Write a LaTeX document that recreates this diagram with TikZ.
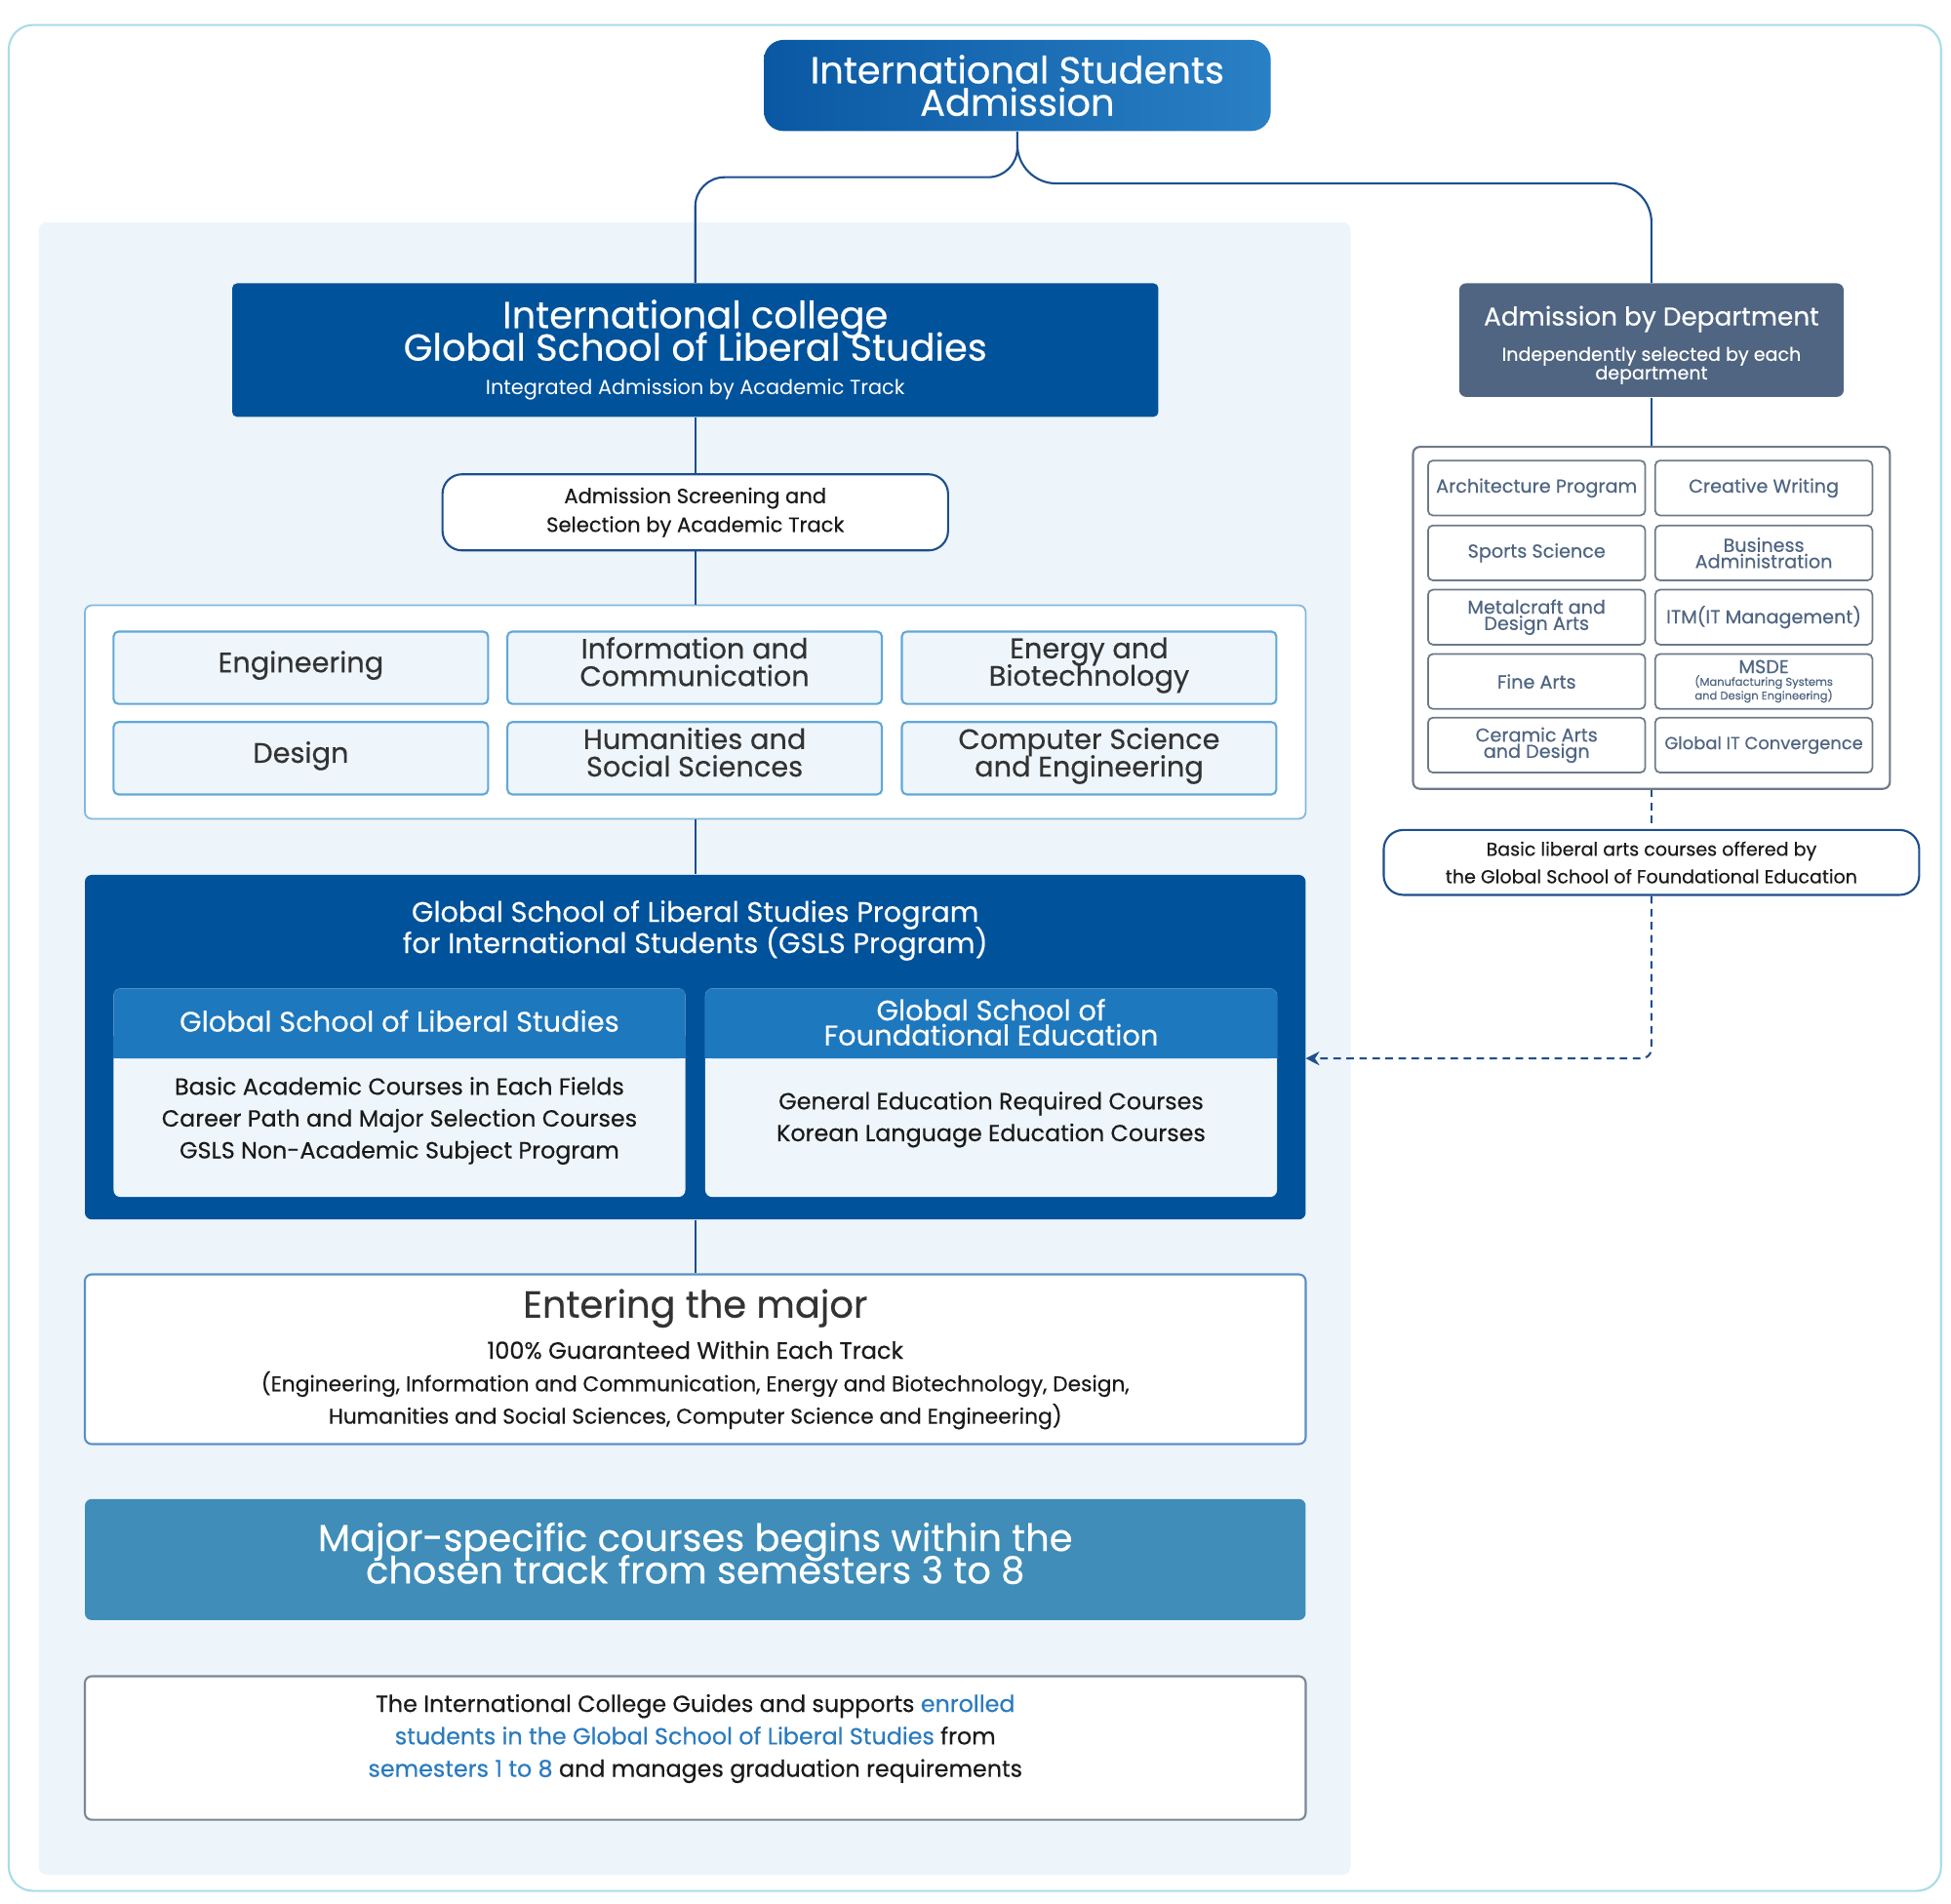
\documentclass[tikz,border=0pt]{standalone}
\usepackage{fontspec}
\usepackage{xfp}
\setmainfont{Poppins}[FakeBold=0.4]
\newfontfamily\lightfont{Poppins}
\usetikzlibrary{arrows.meta}

\definecolor{frame}{HTML}{A9DCE8}
\definecolor{panel}{HTML}{EDF5FB}
\definecolor{navy}{HTML}{00529B}
\definecolor{topL}{HTML}{0A58A3}
\definecolor{topR}{HTML}{2A80C4}
\definecolor{wire}{HTML}{1D4F8C}
\definecolor{trackline}{HTML}{62A8D6}
\definecolor{trackfill}{HTML}{EEF6FC}
\definecolor{headblue}{HTML}{1E78BE}
\definecolor{steel}{HTML}{3F8DB8}
\definecolor{slate}{HTML}{4F6582}
\definecolor{grayline}{HTML}{6E7A88}
\definecolor{majorline}{HTML}{5C8FC4}
\definecolor{finalline}{HTML}{7B8796}
\definecolor{hl}{HTML}{2A7BBF}
\definecolor{ink}{HTML}{1A1A1A}
\definecolor{darktext}{HTML}{333333}

\newcommand\pu{0.0128cm}
\newcommand\fsz[2]{\fontsize{\fpeval{#1*0.3642}pt}{\fpeval{#2*0.3642}pt}\selectfont\lineskiplimit=-\maxdimen}
\newcommand\txtstack[1]{{\lineskiplimit=0pt\begin{tabular}{@{}c@{}}#1\end{tabular}}}

\begin{document}
\begin{tikzpicture}[x=0.0128cm, y=-0.0128cm,
    sz/.style 2 args={minimum width=#1*\pu, minimum height=#2*\pu},
    box/.style={rectangle, inner sep=0pt, align=center},
    wire/.style={draw=wire, line width=0.6pt},
    track/.style={box, sz={300}{58}, draw=trackline, fill=trackfill, line width=0.6pt,
      rounded corners=0.05cm, text=darktext, font=\fsz{22.5}{22}, text depth=3.6pt},
    deptbox/.style={box, sz={174}{44}, draw=grayline, line width=0.5pt,
      rounded corners=0.05cm, text=slate, font=\fsz{15}{13}},
    bodytext/.style={box, text=ink, font=\fsz{18.6}{25.5}}]

    \useasboundingbox (0,0) rectangle (1563,1525);
    %\draw[gray!30, step=50] (0,0) grid (1563,1525);

    % frame and panel
    \draw[frame, line width=0.6pt, rounded corners=0.25cm] (7,20) rectangle (1555,1515);
    \fill[panel, rounded corners=0.08cm] (31,178) rectangle (1082,1502);

    \node[box, sz={406}{73}, rounded corners=0.2cm, left color=topL, right color=topR,
      text=white, font=\fsz{30}{26}] (top) at (815,68.5) {International Students\\Admission};

    % international college
    \node[box, sz={742}{107}, fill=navy, rounded corners=0.05cm, text=white, font=\fsz{30}{26}]
      (gsls) at (557,280.5) {International college\\Global School of Liberal Studies\\[0.02cm]{\lightfont\fsz{16.3}{16}Integrated Admission by Academic Track}};
    \node[box, sz={405}{61}, draw=wire, line width=0.6pt, fill=white, rounded corners=0.2cm,
      text=ink, font=\fsz{16.5}{23}] (screen) at (557,410.5) {Admission Screening and\\Selection by Academic Track};

    \node[box, sz={978}{171}, draw=trackline!80, fill=white, line width=0.5pt,
      rounded corners=0.07cm] (tracks) at (557,570.5) {};
    \node[track] (eng) at (241,535) {Engineering};
    \node[track] (ic) at (556.5,535) {Information and\\Communication};
    \node[track] (ebt) at (872.5,535) {Energy and\\Biotechnology};
    \node[track] (des) at (241,607.5) {Design};
    \node[track] (hss) at (556.5,607.5) {Humanities and\\Social Sciences};
    \node[track] (cse) at (872.5,607.5) {Computer Science\\and Engineering};

    % gsls program
    \node[box, sz={978}{276}, fill=navy, rounded corners=0.07cm] (prog) at (557,839) {};
    \node[box, text=white, font=\fsz{22.5}{25}] (progtitle) at (557,745.5)
      {Global School of Liberal Studies Program\\for International Students (GSLS Program)};

    \node[box, sz={458}{167}, fill=trackfill, rounded corners=0.07cm] (lcol) at (320,875.5) {};
    \fill[headblue, rounded corners=0.07cm] (91,792) rectangle (549,848);
    \fill[headblue] (91,830) rectangle (549,848);
    \node[box, text=white, font=\fsz{22.6}{20}] (lhead) at (320,818) {Global School of Liberal Studies};
    \node[bodytext] (lbody) at (320,898) {Basic Academic Courses in Each Fields\\Career Path and Major Selection Courses\\GSLS Non-Academic Subject Program};

    \node[box, sz={458}{167}, fill=trackfill, rounded corners=0.07cm] (rcol) at (794,875.5) {};
    \fill[headblue, rounded corners=0.07cm] (565,792) rectangle (1023,848);
    \fill[headblue] (565,830) rectangle (1023,848);
    \node[box, text=white, font=\fsz{22.6}{20}] (rhead) at (794,819) {Global School of\\Foundational Education};
    \node[bodytext] (rbody) at (794,897) {General Education Required Courses\\Korean Language Education Courses};

    % after the program
    \node[box, sz={978}{136}, draw=majorline, fill=white, line width=0.6pt, rounded corners=0.07cm,
      text=ink, font=\fsz{17}{26}] (major) at (557,1089)
      {{\fsz{30}{26}\color{darktext}Entering the major}\\[0.09cm]{\fsz{18.8}{26}100\% Guaranteed Within Each Track}\\(Engineering, Information and Communication, Energy and Biotechnology, Design,\\Humanities and Social Sciences, Computer Science and Engineering)};
    \node[box, sz={978}{97}, fill=steel, rounded corners=0.07cm] (spec) at (557,1249.5) {};
    \node[box, text=white, font=\fsz{30}{26}] (spectext) at (557,1244.5)
      {Major-specific courses begins within the\\chosen track from semesters 3 to 8};
    \node[box, sz={978}{115}, draw=finalline, fill=white, line width=0.6pt, rounded corners=0.07cm]
      (final) at (557,1400.5) {};
    \node[box, text=ink, font=\fsz{18.6}{26}] (finaltext) at (557,1393)
      {The International College Guides and supports {\color{hl}enrolled}\\{\color{hl}students in the Global School of Liberal Studies} from\\{\color{hl}semesters 1 to 8} and manages graduation requirements};

    % admission by department
    \node[box, sz={308}{91}, fill=slate, rounded corners=0.07cm] (dept) at (1323,272.5) {};
    \node[box, text=white, font=\fsz{20.6}{20}] (depttext) at (1323,276.5)
      {Admission by Department\\[0.2cm]{\fsz{14.9}{13}\txtstack{Independently selected by each\\department}}};
    \node[box, sz={382}{274}, draw=grayline, fill=white, line width=0.6pt, rounded corners=0.07cm]
      (deptgrid) at (1323,495) {};
    \node[deptbox] (arch) at (1231,391) {Architecture Program};
    \node[deptbox] (cw) at (1413,391) {Creative Writing};
    \node[deptbox] (sport) at (1231,443) {Sports Science};
    \node[deptbox] (biz) at (1413,443) {Business\\Administration};
    \node[deptbox] (metal) at (1231,494.5) {Metalcraft and\\Design Arts};
    \node[deptbox] (itm) at (1413,494.5) {ITM(IT Management)};
    \node[deptbox] (fine) at (1231,546) {Fine Arts};
    \node[deptbox] (msde) at (1413,546) {MSDE\\[0.04cm]{\fsz{9}{9}\txtstack{(Manufacturing Systems\\and Design Engineering)}}};
    \node[deptbox] (ceram) at (1231,597) {Ceramic Arts\\and Design};
    \node[deptbox, font=\fsz{14}{13}] (gitc) at (1413,597) {Global IT Convergence};

    \node[box, sz={429}{52}, draw=wire, fill=white, line width=0.6pt, rounded corners=0.2cm,
      text=ink, font=\fsz{14.9}{22}] (basic) at (1323,691)
      {Basic liberal arts courses offered by\\the Global School of Foundational Education};

    % connectors
    \coordinate (lsplit) at (557,142);
    \coordinate (rsplit) at (1323,147);
    \coordinate (gslsin) at (1046,848);
    \draw[wire, rounded corners=0.3cm] (top.south) |- (lsplit) -- (gsls.north);
    \draw[wire, rounded corners=0.4cm] (top.south) |- (rsplit) -- (dept.north);
    \draw[wire] (gsls) -- (screen);
    \draw[wire] (screen) -- (tracks);
    \draw[wire] (tracks) -- (prog);
    \draw[wire] (prog) -- (major);
    \draw[wire] (dept) -- (deptgrid);
    \draw[wire, dash pattern=on 2.2pt off 1.6pt] (deptgrid) -- (basic);
    \draw[wire, dash pattern=on 2.2pt off 1.6pt, rounded corners=0.1cm,
      -{Stealth[length=4pt, width=4pt]}] (basic.south) |- (gslsin);
\end{tikzpicture}
\end{document}
